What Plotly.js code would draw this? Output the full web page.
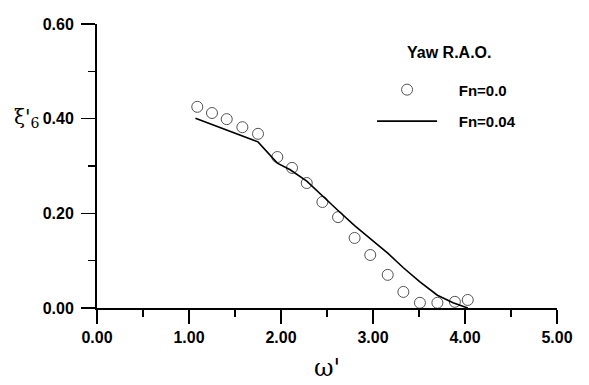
<!DOCTYPE html>
<html>
<head>
<meta charset="utf-8">
<script src="https://cdn.plot.ly/plotly-3.0.1.min.js"></script>
<style>html,body{margin:0;padding:0;background:#fff;}#chart{width:589px;height:385px;}</style>
</head>
<body>
<div id="chart"></div>
<script>
// Fn = 0.0 (circles)
const omegaFn00 = [1.09, 1.25, 1.41, 1.58, 1.75, 1.96, 2.12, 2.28, 2.45, 2.62, 2.80, 2.97, 3.16, 3.33, 3.51, 3.70, 3.89, 4.03];
const yawFn00   = [0.425, 0.412, 0.399, 0.382, 0.368, 0.319, 0.296, 0.264, 0.224, 0.192, 0.148, 0.112, 0.070, 0.034, 0.011, 0.011, 0.013, 0.017];
// Fn = 0.04 (line)
const omegaFn04 = [1.07, 1.75, 1.96, 2.10, 2.28, 2.45, 2.62, 2.80, 2.97, 3.16, 3.33, 3.51, 3.70, 3.87, 4.03];
const yawFn04   = [0.401, 0.351, 0.306, 0.292, 0.268, 0.236, 0.206, 0.174, 0.146, 0.116, 0.085, 0.055, 0.027, 0.011, 0.000];
const seriesNames = ['Fn=0.0', 'Fn=0.04'];
const legendTitle = 'Yaw R.A.O.';
const xTicks = [0, 1, 2, 3, 4, 5];
const yTicks = [0, 0.2, 0.4, 0.6];

const font = 'Liberation Sans, Arial, sans-serif';
const pad = '\u00a0\u00a0\u00a0\u00a0';
const traces = [
  {x: omegaFn00, y: yawFn00, name: pad + seriesNames[0], legendgroup: 'a', mode: 'markers', type: 'scatter',
   marker: {symbol: 'circle-open', size: 11, color: '#555', line: {width: 1, color: '#555'}}},
  {x: omegaFn04, y: yawFn04, name: pad + seriesNames[1], legendgroup: 'b', mode: 'lines', type: 'scatter',
   line: {color: '#000', width: 1.6}}
];
const axisCommon = {
  showgrid: false, zeroline: false, showline: true, linecolor: '#000', linewidth: 2,
  ticks: 'outside', ticklen: 14, tickwidth: 1.5, tickcolor: '#000', tickformat: '.2f',
  tickfont: {family: font, size: 16, color: '#000', weight: 'bold'}, tickmode: 'array'
};
const layout = {
  width: 589, height: 385,
  margin: {l: 97, r: 32, t: 24, b: 77},
  paper_bgcolor: '#fff', plot_bgcolor: '#fff',
  showlegend: true,
  xaxis: Object.assign({}, axisCommon, {range: [0, 5], tickvals: xTicks,
    minor: {dtick: 0.5, ticklen: 7, tickwidth: 1.5, tickcolor: '#000', ticks: 'outside'},
    title: {text: 'ω\'', font: {family: 'DejaVu Serif, serif', size: 24, color: '#000'}, standoff: 14}}),
  yaxis: Object.assign({}, axisCommon, {range: [0, 0.6], tickvals: yTicks,
    minor: {dtick: 0.1, ticklen: 7, tickwidth: 1.5, tickcolor: '#000', ticks: 'outside'},
    ticklabelstandoff: 4}),
  legend: {x: 0.598, y: 0.826, xanchor: 'left', yanchor: 'top', bgcolor: 'rgba(0,0,0,0)',
    itemwidth: 60, tracegroupgap: 9,
    font: {family: font, size: 15, color: '#000', weight: 'bold'}},
  annotations: [
    {text: legendTitle, xref: 'paper', yref: 'paper', x: 0.765, y: 0.898, xanchor: 'center', yanchor: 'middle',
     showarrow: false, font: {family: font, size: 16, color: '#000', weight: 'bold'}},
    {text: "ξ'<sub>6</sub>", xref: 'paper', yref: 'paper', x: -0.12, y: 0.67, xanchor: 'right', yanchor: 'middle',
     showarrow: false, font: {family: 'DejaVu Serif, serif', size: 20, color: '#000'}}
  ]
};
Plotly.newPlot('chart', traces, layout, {displayModeBar: false, staticPlot: true});
</script>
</body>
</html>
